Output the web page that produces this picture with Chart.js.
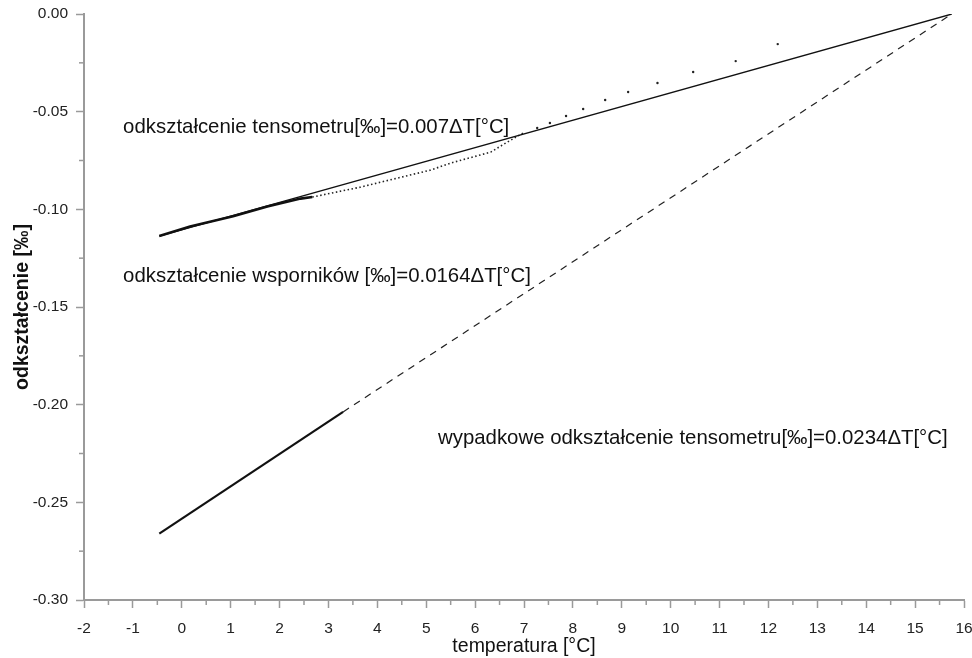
<!DOCTYPE html>
<html>
<head>
<meta charset="utf-8">
<script src="https://cdn.jsdelivr.net/npm/chart.js@4/dist/chart.umd.min.js"></script>
<style>
  html, body { margin: 0; padding: 0; background: #fff; }
  #wrap { width: 972px; height: 658px; }
</style>
</head>
<body>
<div id="wrap"><canvas id="wykres" width="972" height="658"></canvas></div>
<script>
// prosta tensometru 0.007 dT
const tensT = [-0.46, 15.75];
const tensE = [-0.1137, 0.0];

// pomiar (gruba linia)
const pomiarT = [-0.46, 0.17, 1.05, 1.75, 2.43, 2.67];
const pomiarE = [-0.1137, -0.1088, -0.1035, -0.0985, -0.0945, -0.0937];

// gesto kropkowana krzywa
const krzywaT = [2.67, 3.66, 4.33, 5.09, 5.5, 6.32, 6.63, 7.02];
const krzywaE = [-0.0937, -0.0886, -0.0845, -0.0799, -0.0763, -0.0707, -0.066, -0.0604];

// rzadkie kropki
const kropkiT = [7.27, 7.53, 7.86, 8.21, 8.66, 9.13, 9.73, 10.46, 11.33, 12.19];
const kropkiE = [-0.0584, -0.0558, -0.0522, -0.0486, -0.044, -0.0399, -0.0353, -0.0297, -0.0241, -0.0154];

// wsporniki / wypadkowe
const wspT = [-0.46, 3.3];
const wspE = [-0.266, -0.2037];
const wspKreskiT = [3.3, 15.75];
const wspKreskiE = [-0.2037, 0.0];

const xTicks = [-2, -1, 0, 1, 2, 3, 4, 5, 6, 7, 8, 9, 10, 11, 12, 13, 14, 15, 16];
const yTicks = [0, -0.05, -0.10, -0.15, -0.20, -0.25, -0.30];

const opisy = [
  { tekst: 'odkształcenie tensometru[‰]=0.007ΔT[°C]', t: -1.2, e: -0.0578 },
  { tekst: 'odkształcenie wsporników [‰]=0.0164ΔT[°C]', t: -1.2, e: -0.1345 },
  { tekst: 'wypadkowe odkształcenie tensometru[‰]=0.0234ΔT[°C]', t: 5.24, e: -0.2175 }
];

const punkty = (xs, ys) => xs.map((x, i) => ({ x: x, y: ys[i] }));

const osie = '#9a9a9a';
const czcionka = '"Liberation Sans", Arial, sans-serif';

const minorTicks = {
  id: 'minorTicks',
  afterDraw(chart) {
    const c = chart.ctx;
    const sx = chart.scales.x, sy = chart.scales.y;
    c.save();
    c.strokeStyle = osie;
    c.lineWidth = 1.5;
    for (let v = -1.5; v < 16; v += 1) {
      const px = sx.getPixelForValue(v);
      c.beginPath(); c.moveTo(px, sy.bottom); c.lineTo(px, sy.bottom + 5); c.stroke();
    }
    for (let v = -0.025; v > -0.3; v -= 0.05) {
      const py = sy.getPixelForValue(v);
      c.beginPath(); c.moveTo(sx.left, py); c.lineTo(sx.left - 5, py); c.stroke();
    }
    c.fillStyle = '#111';
    c.font = '20.4px ' + czcionka;
    c.textBaseline = 'middle';
    c.textAlign = 'left';
    opisy.forEach(o => {
      c.fillText(o.tekst, sx.getPixelForValue(o.t), sy.getPixelForValue(o.e));
    });
    c.restore();
  }
};

new Chart(document.getElementById('wykres').getContext('2d'), {
  type: 'scatter',
  data: {
    datasets: [
      { data: punkty(wspKreskiT, wspKreskiE), showLine: true, borderColor: '#222', borderWidth: 1.2, borderDash: [7, 6], pointRadius: 0 },
      { data: punkty(wspT, wspE), showLine: true, borderColor: '#111', borderWidth: 2.2, pointRadius: 0 },
      { data: punkty(tensT, tensE), showLine: true, borderColor: '#111', borderWidth: 1.3, pointRadius: 0 },
      { data: punkty(krzywaT, krzywaE), showLine: true, borderColor: '#222', borderWidth: 1.6, borderDash: [1.5, 2.5], pointRadius: 0 },
      { data: punkty(kropkiT, kropkiE), showLine: false, backgroundColor: '#222', borderWidth: 0, pointRadius: 1.2 },
      { data: punkty(pomiarT, pomiarE), showLine: true, borderColor: '#111', borderWidth: 2.6, pointRadius: 0 }
    ]
  },
  options: {
    responsive: false,
    animation: false,
    layout: { padding: { top: 14, right: 8, bottom: 0, left: 0 } },
    plugins: { legend: { display: false }, tooltip: { enabled: false } },
    scales: {
      x: {
        type: 'linear',
        min: -2, max: 16,
        afterBuildTicks: s => { s.ticks = xTicks.map(v => ({ value: v })); },
        ticks: { color: '#222', font: { size: 15.5, family: czcionka }, padding: 11, maxRotation: 0, autoSkip: false },
        grid: { drawOnChartArea: false, tickLength: 8, color: osie, tickWidth: 1.5 },
        border: { color: osie, width: 2 },
        title: { display: true, text: 'temperatura [°C]', color: '#111', font: { size: 19.5, family: czcionka }, padding: { top: 2, bottom: 0 } },
        afterFit: s => { s.height = 58; s.paddingLeft = 0; s.paddingRight = 0; }
      },
      y: {
        type: 'linear',
        min: -0.3, max: 0,
        afterBuildTicks: s => { s.ticks = yTicks.map(v => ({ value: v })); },
        ticks: { color: '#222', font: { size: 15.5, family: czcionka }, padding: 8, callback: v => v.toFixed(2) },
        grid: { drawOnChartArea: false, tickLength: 8, color: osie, tickWidth: 1.5 },
        border: { color: osie, width: 2 },
        title: { display: true, text: 'odkształcenie [‰]', color: '#111', font: { size: 19.5, weight: 'bold', family: czcionka }, padding: { top: 11, bottom: 0 } },
        afterFit: s => { s.width = 84; s.paddingTop = 0; s.paddingBottom = 0; }
      }
    }
  },
  plugins: [minorTicks]
});
</script>
</body>
</html>
